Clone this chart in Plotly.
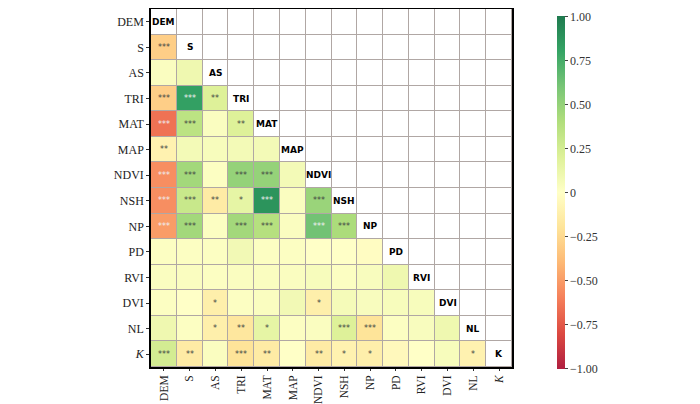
import plotly.graph_objects as go

labels = ["DEM", "S", "AS", "TRI", "MAT", "MAP", "NDVI", "NSH", "NP", "PD", "RVI", "DVI", "NL", "K"]
tick_labels = ["DEM", "S", "AS", "TRI", "MAT", "MAP", "NDVI", "NSH", "NP", "PD", "RVI", "DVI", "NL", "<i>K</i>"]

# lower-triangle correlation values (row i, columns 0..i-1)
r_S = [-0.30]
r_AS = [0.03, 0.10]
r_TRI = [-0.30, 0.82, 0.20]
r_MAT = [-0.65, 0.35, 0.03, 0.20]
r_MAP = [-0.10, 0.07, 0.05, 0.07, 0.07]
r_NDVI = [-0.55, 0.45, 0.02, 0.50, 0.50, 0.07]
r_NSH = [-0.55, 0.30, -0.15, 0.15, 0.88, 0.03, 0.48]
r_NP = [-0.50, 0.45, 0.02, 0.45, 0.38, 0.03, 0.62, 0.42]
r_PD = [0.02, 0.02, 0.02, 0.08, 0.02, 0.02, 0.00, 0.00, -0.02]
r_RVI = [0.03, 0.03, 0.02, 0.03, 0.03, 0.03, 0.05, 0.02, 0.04, 0.10]
r_DVI = [0.02, 0.00, -0.12, 0.02, 0.03, 0.08, -0.12, 0.06, 0.04, 0.05, 0.05]
r_NL = [0.10, 0.02, -0.12, -0.18, 0.15, 0.02, 0.03, 0.20, -0.20, 0.02, 0.04, 0.10]
r_K = [0.25, -0.15, 0.03, -0.20, -0.15, 0.00, -0.15, -0.10, -0.12, -0.05, 0.00, 0.05, -0.10]

# significance markers
s_S = ["***"]
s_AS = ["", ""]
s_TRI = ["***", "***", "**"]
s_MAT = ["***", "***", "", "**"]
s_MAP = ["**", "", "", "", ""]
s_NDVI = ["***", "***", "", "***", "***", ""]
s_NSH = ["***", "***", "**", "*", "***", "", "***"]
s_NP = ["***", "***", "", "***", "***", "", "***", "***"]
s_PD = [""] * 9
s_RVI = [""] * 10
s_DVI = ["", "", "*", "", "", "", "*", "", "", "", ""]
s_NL = ["", "", "*", "**", "*", "", "", "***", "***", "", "", ""]
s_K = ["***", "**", "", "***", "**", "", "**", "*", "*", "", "", "", "*"]

val_rows = [[], r_S, r_AS, r_TRI, r_MAT, r_MAP, r_NDVI, r_NSH, r_NP, r_PD, r_RVI, r_DVI, r_NL, r_K]
sig_rows = [[], s_S, s_AS, s_TRI, s_MAT, s_MAP, s_NDVI, s_NSH, s_NP, s_PD, s_RVI, s_DVI, s_NL, s_K]

# RdYlGn, slightly washed toward white
base = ["#a50026", "#d73027", "#f46d43", "#fdae61", "#fee08b", "#ffffbf",
        "#d9ef8b", "#a6d96a", "#66bd63", "#1a9850", "#006837"]
def wash(h, a=0.88):
    r, g, b = (int(h[k:k + 2], 16) for k in (1, 3, 5))
    f = lambda c: int(round(c * a + 255 * (1 - a)))
    return "rgb(%d,%d,%d)" % (f(r), f(g), f(b))
cscale = [[k / 10, wash(c)] for k, c in enumerate(base)]

n = len(labels)
z = [[None] * n for _ in range(n)]
zw = [[None] * n for _ in range(n)]
for i in range(n):
    for j in range(n):
        if j < i:
            z[i][j] = val_rows[i][j]
        else:
            zw[i][j] = 0

PLOT_H = 358
fig = go.Figure()
fig.add_trace(go.Heatmap(
    z=z, x=list(range(n)), y=list(range(n)),
    colorscale=cscale, zmin=-1.002, zmax=1.002, xgap=1, ygap=1,
    hoverongaps=False,
    colorbar=dict(
        x=1.097, xanchor="left", xref="paper", y=1 - 7 / PLOT_H, yanchor="top",
        len=PLOT_H - 5, lenmode="pixels", thickness=8, outlinewidth=0, ypad=0,
        tickvals=[1, 0.75, 0.5, 0.25, 0, -0.25, -0.5, -0.75, -1],
        ticktext=["1.00", "0.75", "0.50", "0.25", "0", "\u22120.25", "\u22120.50", "\u22120.75", "\u22121.00"],
        ticks="outside", ticklen=3, tickcolor="#444", ticklabeloverflow="allow",
        tickfont=dict(family="Liberation Serif", size=12, color="#333"),
    ),
))
fig.add_trace(go.Heatmap(
    z=zw, x=list(range(n)), y=list(range(n)),
    colorscale=[[0, "white"], [1, "white"]], showscale=False,
    xgap=1, ygap=1, hoverongaps=False,
))

ann = []
for i in range(n):
    for j in range(i):
        s = sig_rows[i][j]
        if s:
            v = val_rows[i][j]
            col = "#f0f0f0" if (v <= -0.45 or v >= 0.55) else "#444444"
            ann.append(dict(x=j, y=i, text=s, showarrow=False,
                            font=dict(family="DejaVu Sans", size=8, color=col)))
    ann.append(dict(x=i, y=i, text="<b>" + labels[i] + "</b>", showarrow=False,
                    font=dict(family="DejaVu Sans", size=9, color="black")))

# page body has an 8px default margin, so the figure is sized to fit the window
fig.update_layout(
    width=692, height=396,
    margin=dict(l=143, r=188, t=1, b=396 - 1 - PLOT_H, autoexpand=False),
    plot_bgcolor="#b0a7a4", paper_bgcolor="white",
    annotations=ann,
    xaxis=dict(tickvals=list(range(n)), ticktext=tick_labels, tickangle=-90,
               range=[-0.5, n - 0.5], showgrid=False, zeroline=False,
               ticks="outside", ticklen=2, tickcolor="#333",
               tickfont=dict(family="Liberation Serif", size=11.5, color="#222"),
               showline=True, linecolor="black", linewidth=1.5, mirror=True),
    yaxis=dict(tickvals=list(range(n)), ticktext=tick_labels,
               range=[n - 0.5, -0.5], showgrid=False, zeroline=False,
               ticks="outside", ticklen=3, tickcolor="#333",
               tickfont=dict(family="Liberation Serif", size=12, color="#222"),
               showline=True, linecolor="black", linewidth=1.5, mirror=True),
    showlegend=False,
)

fig.write_html("out.html")
